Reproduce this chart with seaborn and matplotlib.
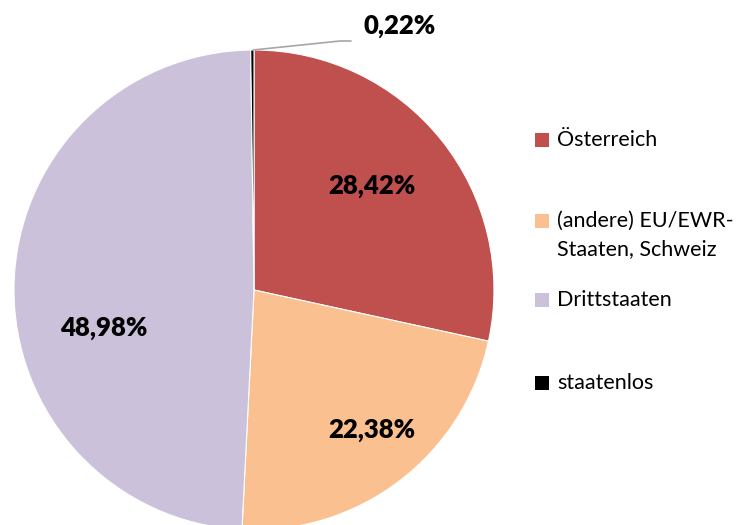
import matplotlib
matplotlib.use("Agg")
import matplotlib.pyplot as plt
import seaborn as sns

categories = ["Österreich", "(andere) EU/EWR-\nStaaten, Schweiz", "Drittstaaten", "staatenlos"]
values = [28.42, 22.38, 48.98, 0.22]
labels = ["28,42%", "22,38%", "48,98%", "0,22%"]
colors = ["#C0504D", "#FAC090", "#CCC1DA", "#000000"]

sns.set_theme(style="white")
plt.rcParams["font.family"] = ["Lato", "DejaVu Sans"]

W, H = 737, 525
fig = plt.figure(figsize=(W / 100, H / 100), dpi=100)
ax = fig.add_axes([0, 0, 1, 1])

cx, cy, r = 254, H - 290, 240
ax.pie(values, colors=colors, startangle=90, counterclock=False,
       center=(cx, cy), radius=r,
       wedgeprops=dict(edgecolor="white", linewidth=0.8))
ax.set_xlim(0, W)
ax.set_ylim(0, H)
ax.set_aspect("equal")
ax.axis("off")

# data labels
label_pos = [(372, H - 186), (372, H - 430), (104, H - 328), (400, H - 26)]
for (x, y), t in zip(label_pos, labels):
    ax.text(x, y, t, ha="center", va="center", fontsize=18.5, fontweight="heavy", color="black")

# leader line for the tiny slice
ax.plot([253, 340, 351], [H - 50, H - 41, H - 41], color="#A6A6A6", lw=1.2)

# legend
leg_y = [140, 235, 300, 383]
for c, lab, y in zip(colors, categories, leg_y):
    yy = H - y
    sq_y = H - 221 if "\n" in lab else yy
    ax.scatter([542.5], [sq_y], marker="s", s=100, color=c, linewidths=0)
    ax.text(557, yy, lab, ha="left", va="center", fontsize=15.5, color="black",
            linespacing=1.5)

fig.savefig("out.png", dpi=100)
